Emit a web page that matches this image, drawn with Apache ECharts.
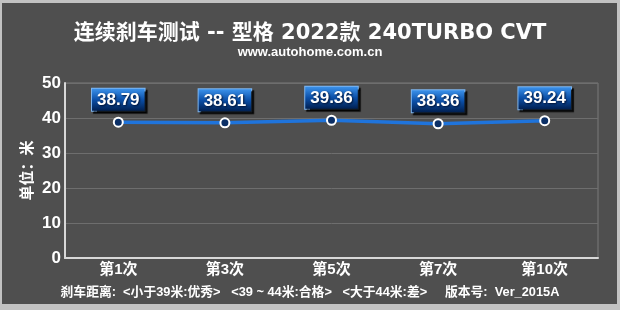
<!DOCTYPE html>
<html>
<head>
<meta charset="utf-8">
<script src="https://cdn.jsdelivr.net/npm/echarts@6/dist/echarts.min.js"></script>
<style>
  html, body { margin:0; padding:0; background:#c2c2c2; }
  #frame { position:absolute; left:2px; top:3px; width:615px; height:301px; background:#4f4f4f; }
  #chart { position:absolute; left:0; top:0; width:620px; height:310px; }
</style>
</head>
<body>
<div id="frame"></div>
<div id="chart"></div>
<script>
const categories = ['第1次', '第3次', '第5次', '第7次', '第10次'];
const distances = [38.79, 38.61, 39.36, 38.36, 39.24];
const yTicks = [0, 10, 20, 30, 40, 50];
const titleText = '连续刹车测试 -- 型格 2022款 240TURBO CVT';
const subtitleText = 'www.autohome.com.cn';
const yAxisName = '单位：米';
const footerText = '刹车距离:  <小于39米:优秀>   <39 ~ 44米:合格>   <大于44米:差>     版本号:  Ver_2015A';

const FONT = '"Liberation Sans", Arial, "Noto Sans CJK SC", sans-serif';
const WIDE = '"DejaVu Sans", "Noto Sans CJK SC", sans-serif';
const chart = echarts.init(document.getElementById('chart'), null, { renderer: 'canvas' });

chart.setOption({
  backgroundColor: 'transparent',
  animation: false,
  title: [
    {
      text: titleText,
      left: 'center', top: 18,
      textStyle: { color: '#ffffff', fontSize: 21, fontWeight: 'bold', fontFamily: WIDE }
    },
    {
      text: subtitleText,
      left: 'center', top: 41,
      textStyle: { color: '#ffffff', fontSize: 13, fontWeight: 'bold', fontFamily: FONT }
    },
    {
      text: footerText,
      left: 'center', top: 281,
      textStyle: { color: '#ffffff', fontSize: 12.8, fontWeight: 'bold', fontFamily: FONT }
    }
  ],
  grid: { left: 65, right: 22, top: 83, bottom: 52, show: true, borderColor: '#7a7a7a', borderWidth: 1, containLabel: false },
  xAxis: {
    type: 'category',
    data: categories,
    boundaryGap: true,
    axisLine: { lineStyle: { color: '#d8d8d8', width: 2 } },
    axisTick: { show: false },
    axisLabel: { color: '#ffffff', fontSize: 15, fontWeight: 'bold', fontFamily: FONT, margin: 4 }
  },
  yAxis: {
    type: 'value',
    min: yTicks[0], max: yTicks[yTicks.length - 1], interval: 10,
    name: yAxisName,
    nameLocation: 'middle',
    nameRotate: 90,
    nameGap: 30,
    nameMoveOverlap: false,
    nameTextStyle: { color: '#ffffff', fontSize: 15, fontWeight: 'bold', fontFamily: FONT },
    axisLine: { show: true, lineStyle: { color: '#d8d8d8', width: 2 } },
    axisTick: { show: false },
    axisLabel: { color: '#ffffff', fontSize: 17, fontWeight: 'bold', fontFamily: FONT, margin: 4 },
    splitLine: { lineStyle: { color: '#6e6e6e', width: 1 } }
  },
  series: [{
    type: 'line',
    data: distances,
    symbol: 'circle',
    symbolSize: 9,
    lineStyle: { color: '#1f74dc', width: 3.5 },
    itemStyle: { color: '#0b2f66', borderColor: '#ffffff', borderWidth: 2 },
    label: {
      show: true,
      position: 'top',
      distance: 6,
      formatter: p => p.value.toFixed(2),
      color: '#ffffff',
      fontSize: 17,
      fontWeight: 'bold',
      fontFamily: FONT,
      textShadowColor: '#001030',
      textShadowBlur: 2,
      textShadowOffsetX: 1,
      textShadowOffsetY: 1,
      padding: [3, 5, 2, 5],
      borderColor: '#7fb6f0',
      borderWidth: 1,
      backgroundColor: {
        type: 'linear', x: 0, y: 0, x2: 0, y2: 1,
        colorStops: [
          { offset: 0, color: '#3f97f0' },
          { offset: 0.5, color: '#0b4fa8' },
          { offset: 1, color: '#001c4a' }
        ]
      },
      shadowColor: 'rgba(0,0,0,0.85)',
      shadowOffsetX: 2,
      shadowOffsetY: 2,
      shadowBlur: 1
    }
  }]
});
</script>
</body>
</html>
